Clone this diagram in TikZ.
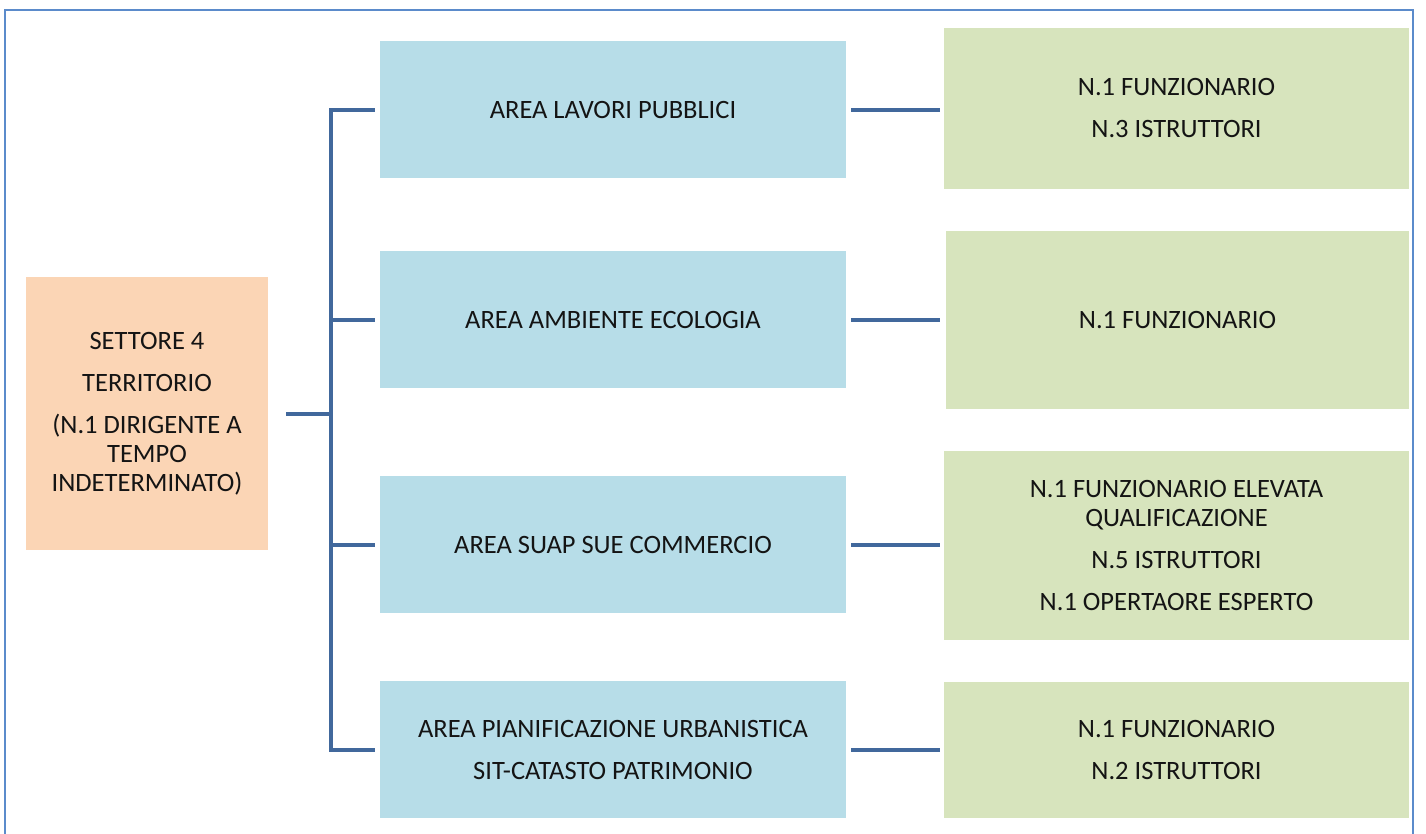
\documentclass[tikz,border=0pt]{standalone}
\usepackage{fontspec}
\setmainfont{Carlito}
\definecolor{framec}{HTML}{5B8BCB}
\definecolor{connc}{HTML}{41689C}
\definecolor{orangec}{HTML}{FBD5B5}
\definecolor{bluec}{HTML}{B7DDE8}
\definecolor{greenc}{HTML}{D7E4BD}
\definecolor{txt}{HTML}{141414}
\begin{document}
\begin{tikzpicture}[x=1pt,y=-1pt,
  box/.style={draw=none, inner sep=0pt, align=center, text=txt,
    font=\fontsize{26.5}{29}\selectfont},
  lead/.style={box, fill=orangec, minimum width=242pt, minimum height=273pt},
  area/.style={box, fill=bluec, minimum width=466pt, minimum height=137pt},
  staff/.style={box, fill=greenc, minimum width=465pt},
  conn/.style={draw=connc, line width=4pt},
  frameline/.style={draw=framec, line width=2.5pt}
]
\useasboundingbox (0,0) rectangle (1426,833);
\draw[frameline] (5,840) -- (5,10) -- (1413,10) -- (1413,840);

\node[lead] (s) at (147,413.5) {SETTORE 4\\[13pt] TERRITORIO\\[13pt] (N.1 DIRIGENTE A\\ TEMPO\\ INDETERMINATO)};

\node[area] (b1) at (613,109.5) {AREA LAVORI PUBBLICI};
\node[area] (b2) at (613,319.5) {AREA AMBIENTE ECOLOGIA};
\node[area] (b3) at (613,544.5) {AREA SUAP SUE COMMERCIO};
\node[area] (b4) at (613,749.5) {AREA PIANIFICAZIONE URBANISTICA\\[13pt] SIT-CATASTO PATRIMONIO};

\node[staff, minimum height=161pt] (g1) at (1176.5,108.5) {N.1 FUNZIONARIO\\[13pt] N.3 ISTRUTTORI};
\node[staff, minimum width=463pt, minimum height=178pt] (g2) at (1177.5,320) {N.1 FUNZIONARIO};
\node[staff, minimum height=189pt] (g3) at (1176.5,545.5) {N.1 FUNZIONARIO ELEVATA\\ QUALIFICAZIONE\\[13pt] N.5 ISTRUTTORI\\[13pt] N.1 OPERTAORE ESPERTO};
\node[staff, minimum height=136pt] (g4) at (1176.5,750) {N.1 FUNZIONARIO\\[13pt] N.2 ISTRUTTORI};

\coordinate (j) at (331,413.5);
\draw[conn] ([xshift=18pt]s.east) -- (j);
\draw[conn] ([xshift=-5pt]b1.west) -- (b1.west -| j) -- (b4.west -| j) -- ([xshift=-5pt]b4.west);
\draw[conn] (b2.west -| j) -- ([xshift=-5pt]b2.west);
\draw[conn] (b3.west -| j) -- ([xshift=-5pt]b3.west);

\draw[conn] ([xshift=5pt]b1.east) -- ([xshift=-4pt]b1.east -| g1.west);
\draw[conn] ([xshift=5pt]b2.east) -- ([xshift=-6pt]b2.east -| g2.west);
\draw[conn] ([xshift=5pt]b3.east) -- ([xshift=-4pt]b3.east -| g3.west);
\draw[conn] ([xshift=5pt]b4.east) -- ([xshift=-4pt]b4.east -| g4.west);
\end{tikzpicture}
\end{document}
